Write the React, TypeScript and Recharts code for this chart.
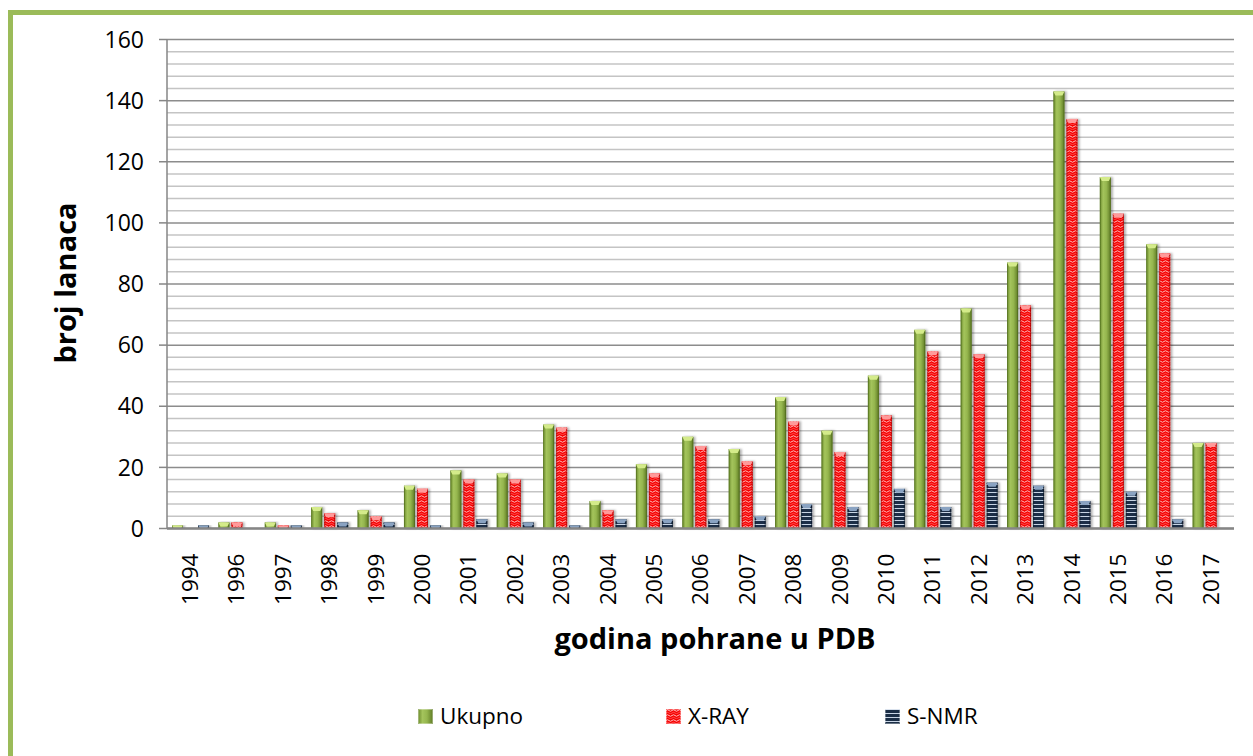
import { BarChart, Bar, XAxis, YAxis, CartesianGrid, Label } from "recharts"

const years = ["1994", "1996", "1997", "1998", "1999", "2000", "2001", "2002", "2003", "2004", "2005", "2006", "2007", "2008", "2009", "2010", "2011", "2012", "2013", "2014", "2015", "2016", "2017"]
const ukupno = [1, 2, 2, 7, 6, 14, 19, 18, 34, 9, 21, 30, 26, 43, 32, 50, 65, 72, 87, 143, 115, 93, 28]
const xray = [0, 2, 1, 5, 4, 13, 16, 16, 33, 6, 18, 27, 22, 35, 25, 37, 58, 57, 73, 134, 103, 90, 28]
const snmr = [1, 0, 1, 2, 2, 1, 3, 2, 1, 3, 3, 3, 4, 8, 7, 13, 7, 15, 14, 9, 12, 3, 0]

const majorTicks = [0, 20, 40, 60, 80, 100, 120, 140, 160]
const minorTicks = [4, 8, 12, 16, 24, 28, 32, 36, 44, 48, 52, 56, 64, 68, 72, 76, 84, 88, 92, 96, 104, 108, 112, 116, 124, 128, 132, 136, 144, 148, 152, 156]

const seriesNames = ["Ukupno", "X-RAY", "S-NMR"]

const data = years.map((y, i) => ({ year: y, ukupno: ukupno[i], xray: xray[i], snmr: snmr[i] }))

const FONT = "'Open Sans', 'Noto Sans', sans-serif"

const makeShape = (capColor: string, edge: string) => (props: any) => {
  const { x, y, width, height, fill } = props
  if (!height || height <= 0) return null
  const c = Math.min(4, height)
  return (
    <g filter="url(#barShadow)">
      <rect x={x} y={y} width={width} height={height} fill={fill} />
      <rect x={x} y={y} width={1} height={height} fill={edge} opacity={0.6} />
      <rect x={x + width - 1} y={y} width={1} height={height} fill={edge} opacity={0.7} />
      <polygon
        points={`${x},${y} ${x + width},${y} ${x + width - 2},${y + c} ${x + 2},${y + c}`}
        fill={capColor}
      />
    </g>
  )
}

const greenShape = makeShape("#d4eb8a", "#4f6a1c")
const redShape = makeShape("#ff9a9a", "#a00000")
const navyShape = makeShape("#8aa3c2", "#0b1726")

const YearTick = (props: any) => {
  const { x, y, payload } = props
  const ty = y + 25
  return (
    <text
      x={x}
      y={ty}
      dy="0.35em"
      textAnchor="end"
      transform={`rotate(-90 ${x} ${ty})`}
      fontSize={22.5}
      fontFamily={FONT}
      fill="#000"
    >
      {payload.value}
    </text>
  )
}

const legendFills = ["url(#gGreen)", "url(#pRed)", "url(#pNavy)"]
const legendLeft = [418, 666, 885]

export default function App() {
  return (
    <div style={{ position: "absolute", left: 0, top: 0, width: 1253, height: 756, background: "#fff", overflow: "hidden", fontFamily: FONT }}>
      <div style={{ position: "absolute", left: 8, top: 10, width: 1300, height: 800, borderTop: "5px solid #9bbb59", borderLeft: "5px solid #9bbb59" }} />

      <BarChart
        width={1253}
        height={756}
        data={data}
        margin={{ top: 39.5, right: 19, left: 107, bottom: 127.5 }}
        barSize={11}
        barGap={2}
        style={{ position: "absolute", left: 0, top: 0 }}
      >
        <defs>
          <linearGradient id="gGreen" x1="0" y1="0" x2="1" y2="0">
            <stop offset="0" stopColor="#6b8a2c" />
            <stop offset="0.3" stopColor="#a4c45c" />
            <stop offset="0.6" stopColor="#95b64e" />
            <stop offset="1" stopColor="#5e7a24" />
          </linearGradient>
          <pattern id="pRed" width="6" height="5" patternUnits="userSpaceOnUse">
            <rect width="6" height="5" fill="#f60000" />
            <path d="M0 1.5 Q1.5 0 3 1.5 T6 1.5" stroke="#ffd0d0" strokeWidth="0.9" fill="none" />
            <path d="M0 4 Q1.5 2.5 3 4 T6 4" stroke="#ff8080" strokeWidth="0.6" fill="none" />
          </pattern>
          <pattern id="pNavy" width="4" height="4" patternUnits="userSpaceOnUse">
            <rect width="4" height="4" fill="#1b2e46" />
            <rect width="4" height="1" fill="#c8d5e5" />
          </pattern>
          <filter id="barShadow" x="-50%" y="-10%" width="200%" height="120%">
            <feDropShadow dx="2" dy="0" stdDeviation="1.2" floodColor="#000" floodOpacity="0.3" />
          </filter>
        </defs>

        <CartesianGrid vertical={false} horizontalValues={minorTicks} stroke="#c4c4c4" strokeWidth={1.5} />
        <CartesianGrid vertical={false} horizontalValues={majorTicks} stroke="#8c8c8c" strokeWidth={1.5} />

        <XAxis
          dataKey="year"
          interval={0}
          height={100}
          tickLine={false}
          tickSize={0}
          tickMargin={0}
          axisLine={{ stroke: "#868686", strokeWidth: 2.5 }}
          tick={<YearTick />}
        >
          <Label
            content={() => (
              <text x={715} y={637} textAnchor="middle" dominantBaseline="central" fontSize={29} fontWeight="bold" fontFamily={FONT} fill="#000">
                godina pohrane u PDB
              </text>
            )}
          />
        </XAxis>
        <YAxis
          width={60}
          domain={[0, 160]}
          ticks={majorTicks}
          interval={0}
          tickSize={8}
          tickMargin={15}
          axisLine={{ stroke: "#868686", strokeWidth: 1.5 }}
          tickLine={{ stroke: "#868686", strokeWidth: 1.5 }}
          tick={{ fill: "#000", fontSize: 23, fontFamily: FONT }}
        >
          <Label
            content={() => (
              <text
                x={64}
                y={283}
                textAnchor="middle"
                dominantBaseline="central"
                transform="rotate(-90 64 283)"
                fontSize={29}
                fontWeight="bold"
                fontFamily={FONT}
                fill="#000"
              >
                broj lanaca
              </text>
            )}
          />
        </YAxis>

        <Bar dataKey="ukupno" name={seriesNames[0]} fill="url(#gGreen)" shape={greenShape} isAnimationActive={false} />
        <Bar dataKey="xray" name={seriesNames[1]} fill="url(#pRed)" shape={redShape} isAnimationActive={false} />
        <Bar dataKey="snmr" name={seriesNames[2]} fill="url(#pNavy)" shape={navyShape} isAnimationActive={false} />
      </BarChart>

      {seriesNames.map((n, i) => (
        <div key={n} style={{ position: "absolute", left: legendLeft[i], top: 704, height: 24, display: "flex", alignItems: "center" }}>
          <svg width={15} height={15} style={{ marginRight: 7 }}>
            <rect x={0} y={0} width={15} height={15} fill={legendFills[i]} />
            <rect x={0.5} y={0.5} width={14} height={14} fill="none" stroke="#ffffff" strokeOpacity={0.35} />
          </svg>
          <span style={{ fontSize: 22.5, color: "#000", lineHeight: "24px" }}>{n}</span>
        </div>
      ))}
    </div>
  )
}
